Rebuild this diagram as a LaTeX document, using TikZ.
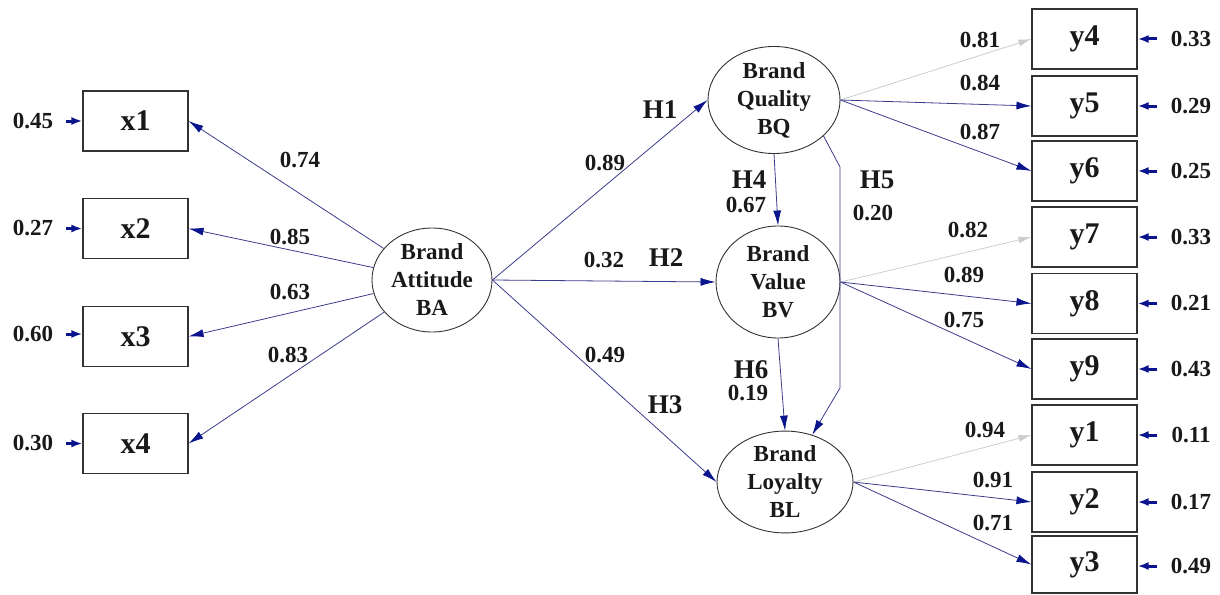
\documentclass[tikz,border=0pt]{standalone}
\usepackage{fontspec}
\setmainfont{Liberation Serif}
\usetikzlibrary{shapes.geometric,arrows.meta}
\definecolor{ln}{RGB}{60,60,140}
\definecolor{tipc}{RGB}{10,20,140}
\definecolor{lg}{RGB}{205,205,205}
\definecolor{bd}{RGB}{50,50,50}
\definecolor{tx}{RGB}{25,25,25}
\tikzset{
 obs/.style={draw=bd, line width=1.1pt, minimum width=105pt, minimum height=60pt, inner sep=0pt, text=tx, font=\fontsize{30}{30}\selectfont\bfseries},
 lat/.style={draw=bd, line width=0.9pt, ellipse, inner sep=0pt, align=center, text=tx, font=\fontsize{23}{28}\selectfont\bfseries},
 conn/.style={draw=ln, line width=0.8pt, -{Latex[length=15pt,width=8pt,color=tipc]}},
 grayc/.style={draw=lg, line width=0.8pt, -{Latex[length=13pt,width=7pt]}},
 err/.style={draw=tipc, line width=3pt, -{Latex[length=11pt,width=8pt]}},
 num/.style={font=\fontsize{23}{23}\selectfont\bfseries, text=tx, inner sep=0pt},
 hyp/.style={font=\fontsize{27}{27}\selectfont\bfseries, text=tx, inner sep=0pt},
}
\begin{document}
\begin{tikzpicture}[x=1pt,y=-1pt]
\useasboundingbox (0,0) rectangle (1220,594);
% observed x
\node[obs] (x1) at (135.5,121) {x1};
\node[obs] (x2) at (135.5,228.5) {x2};
\node[obs] (x3) at (135.5,336.5) {x3};
\node[obs] (x4) at (135.5,443.5) {x4};
% observed y
\node[obs] (y4) at (1084.5,39) {y4};
\node[obs] (y5) at (1084.5,106) {y5};
\node[obs] (y6) at (1084.5,171) {y6};
\node[obs] (y7) at (1084.5,237) {y7};
\node[obs] (y8) at (1084.5,303.5) {y8};
\node[obs] (y9) at (1084.5,369) {y9};
\node[obs] (y1) at (1084.5,435) {y1};
\node[obs] (y2) at (1084.5,502) {y2};
\node[obs, minimum height=57pt] (y3) at (1084.5,564.5) {y3};
% latent
\node[lat, minimum width=120pt, minimum height=104pt] (BA) at (432,280) {Brand\\Attitude\\BA};
\node[lat, minimum width=132pt, minimum height=96pt] (BQ) at (774,100) {Brand\\Quality\\BQ};
\node[lat, minimum width=124pt, minimum height=112pt] (BV) at (778,282) {Brand\\Value\\BV};
\node[lat, minimum width=136pt, minimum height=100pt] (BL) at (785,482) {Brand\\Loyalty\\BL};
% BA loadings
\draw[conn] (BA) -- (x1.east);
\draw[conn] (BA) -- (x2.east);
\draw[conn] (BA) -- (x3.east);
\draw[conn] (BA) -- (x4.east);
\node[num] (l1) at (300,160) {0.74};
\node[num] (l2) at (290,237) {0.85};
\node[num] (l3) at (290,292) {0.63};
\node[num] (l4) at (288,355) {0.83};
% x errors
\foreach \i/\v/\y in {1/0.45/121,2/0.27/228.5,3/0.60/334,4/0.30/443.5}{
  \node[num] (ex\i) at (33,\y) {\v};
  \coordinate (sx\i) at (66,\y);
  \draw[err] (sx\i) -- (x\i.west |- sx\i);
}
% structural paths
\draw[conn] (BA.east) -- (BQ.west);
\draw[conn] (BA.east) -- (BV.west);
\draw[conn] (BA.east) -- (BL.west);
\draw[conn] (BQ.south) -- (BV.north);
\draw[conn] (BV.south) -- (BL.north);
\coordinate (h5a) at (840,167);
\coordinate (h5b) at (840,388);
\draw[conn] (BQ.-36) -- (h5a) -- (h5b) -- (BL.60);
\node[hyp] (H1) at (660,110) {H1};
\node[num] (p1) at (605,163) {0.89};
\node[num] (p2) at (604,260) {0.32};
\node[hyp] (H2) at (666,258) {H2};
\node[num] (p3) at (605,355) {0.49};
\node[hyp] (H3) at (665,405) {H3};
\node[hyp] (H4) at (749,180) {H4};
\node[num] (p4) at (746,205) {0.67};
\node[hyp] (H5) at (877,180) {H5};
\node[num] (p5) at (873,213) {0.20};
\node[hyp] (H6) at (751,370) {H6};
\node[num] (p6) at (748,393) {0.19};
% y loadings
\draw[grayc] (BQ.east) -- (y4.west);
\draw[conn] (BQ.east) -- (y5.west);
\draw[conn] (BQ.east) -- (y6.west);
\draw[grayc] (BV.east) -- (y7.west);
\draw[conn] (BV.east) -- (y8.west);
\draw[conn] (BV.east) -- (y9.west);
\draw[grayc] (BL.east) -- (y1.west);
\draw[conn] (BL.east) -- (y2.west);
\draw[conn] (BL.east) -- (y3.west);
\node[num] (q4) at (980,40) {0.81};
\node[num] (q5) at (980,83) {0.84};
\node[num] (q6) at (980,132) {0.87};
\node[num] (q7) at (968,230) {0.82};
\node[num] (q8) at (964,275) {0.89};
\node[num] (q9) at (964,320) {0.75};
\node[num] (q1) at (985,430) {0.94};
\node[num] (q2) at (993,480) {0.91};
\node[num] (q3) at (993,523) {0.71};
% y errors
\foreach \i/\v/\y in {4/0.33/39,5/0.29/106,6/0.25/171,7/0.33/237,8/0.21/303.5,9/0.43/369,1/0.11/435,2/0.17/502,3/0.49/566}{
  \node[num] (ey\i) at (1191,\y) {\v};
  \coordinate (sy\i) at (1157,\y);
  \draw[err] (sy\i) -- (y\i.east |- sy\i);
}
\end{tikzpicture}
\end{document}
